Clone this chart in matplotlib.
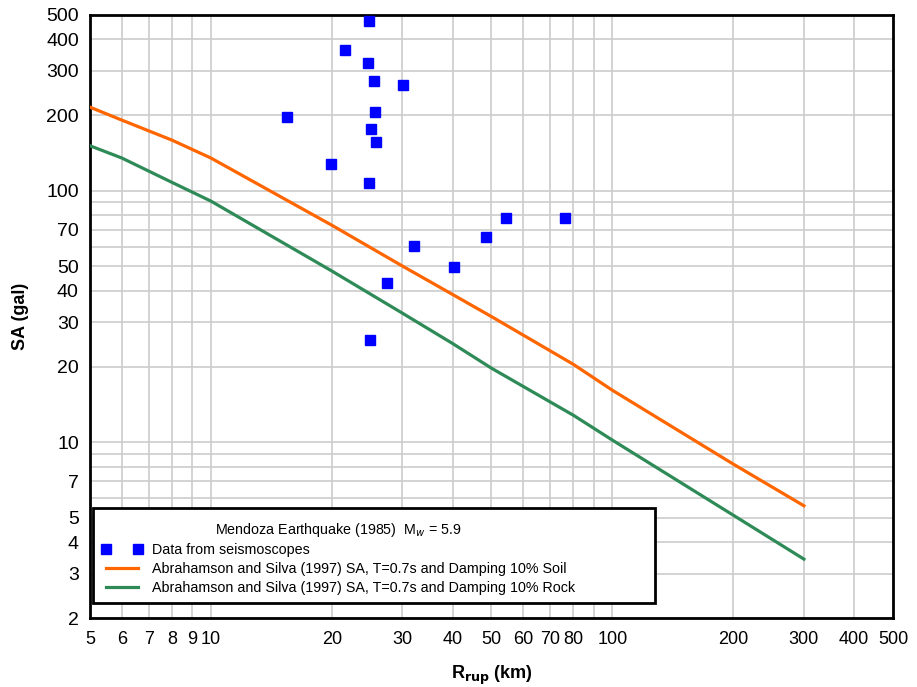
import matplotlib.pyplot as plt
from matplotlib.patches import Rectangle
from matplotlib.ticker import FixedLocator, FixedFormatter, NullFormatter

plt.rcParams['font.family'] = ['Liberation Sans', 'DejaVu Sans']

# seismoscope records (R_rup km, SA gal)
data_r = [24.8, 21.6, 24.6, 25.5, 30.1, 25.6, 15.5, 25.0, 25.8, 19.9, 24.8,
          54.4, 76.2, 48.4, 32.1, 40.3, 27.5, 24.9]
data_sa = [473, 363, 322, 273, 263, 206, 196, 176, 156, 128, 107,
           78, 78, 65.5, 60.3, 49.7, 43.0, 25.5]

# Abrahamson and Silva (1997) curves
curve_r = [5, 6, 8, 10, 20, 30, 40, 50, 80, 100, 200, 300]
soil_sa = [215, 191, 159, 135, 73, 50.2, 38.7, 31.6, 20.4, 16.1, 8.19, 5.59]
rock_sa = [151, 135, 108, 91, 48, 32.6, 24.7, 19.7, 12.8, 10.2, 5.13, 3.43]

x_grid = [5, 6, 7, 8, 9, 10, 20, 30, 40, 50, 60, 70, 80, 90, 100, 200, 300, 400, 500]
x_labels = ['5', '6', '7', '8', '9', '10', '20', '30', '40', '50', '60', '70', '80', '',
            '100', '200', '300', '400', '500']
y_grid = [2, 3, 4, 5, 6, 7, 8, 9, 10, 20, 30, 40, 50, 60, 70, 80, 90, 100, 200, 300, 400, 500]
y_labels = ['2', '3', '4', '5', '', '7', '', '', '10', '20', '30', '40', '50', '', '70', '', '',
            '100', '200', '300', '400', '500']

fig = plt.figure(figsize=(9.17, 6.87), dpi=100)
ax = fig.add_axes([0.0981, 0.1004, 0.8757, 0.8778])

ax.plot(data_r, data_sa, 's', color='#0000FF', markersize=7.5, linestyle='none',
        label='Data from seismoscopes', zorder=4)
ax.plot(curve_r, soil_sa, color='#FF6600', lw=2.3,
        label='Abrahamson and Silva (1997) SA, T=0.7s and Damping 10% Soil', zorder=3)
ax.plot(curve_r, rock_sa, color='#2E8B57', lw=2.3,
        label='Abrahamson and Silva (1997) SA, T=0.7s and Damping 10% Rock', zorder=3)

ax.set_xscale('log')
ax.set_yscale('log')
ax.set_xlim(5, 500)
ax.set_ylim(2, 500)

ax.xaxis.set_major_locator(FixedLocator(x_grid))
ax.xaxis.set_major_formatter(FixedFormatter(x_labels))
ax.xaxis.set_minor_locator(FixedLocator([]))
ax.xaxis.set_minor_formatter(NullFormatter())
ax.yaxis.set_major_locator(FixedLocator(y_grid))
ax.yaxis.set_major_formatter(FixedFormatter(y_labels))
ax.yaxis.set_minor_locator(FixedLocator([]))
ax.yaxis.set_minor_formatter(NullFormatter())

ax.grid(True, color='#CCCCCC', lw=1.2)
ax.set_axisbelow(True)
ax.tick_params(axis='x', length=0, labelsize=13, pad=9)
ax.tick_params(axis='y', length=0, labelsize=14, pad=8)
for s in ax.spines.values():
    s.set_linewidth(2)
    s.set_color('black')

ax.set_xlabel(r'R$_{\mathbf{rup}}$ (km)', fontsize=13, fontweight='bold', labelpad=12)
ax.set_ylabel('SA (gal)', fontsize=13, fontweight='bold', labelpad=12)

# legend box drawn separately (wider than its content, as in the original)
box = Rectangle((0.0037, 0.0249), 0.70, 0.1575, transform=ax.transAxes,
                facecolor='white', edgecolor='black', lw=2, zorder=5)
ax.add_patch(box)

leg = ax.legend(loc='upper left', bbox_to_anchor=(0.0062, 0.173), numpoints=2,
                fontsize=10.3, title='Mendoza Earthquake (1985)  M$_w$ = 5.9',
                title_fontsize=10.3, frameon=False, borderpad=0,
                handlelength=2.8, handletextpad=0.7, labelspacing=0.32)
leg.set_zorder(6)

fig.savefig('out.png', dpi=100)
